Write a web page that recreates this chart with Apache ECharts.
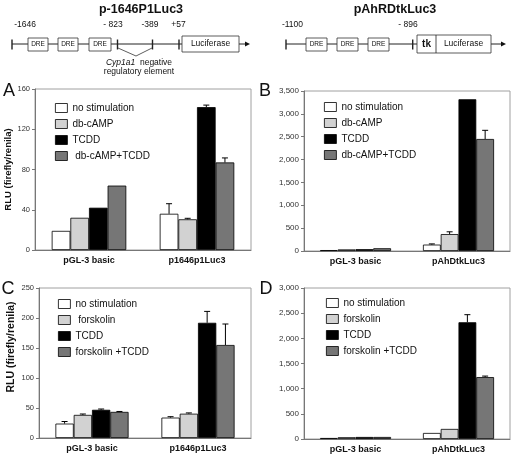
<!DOCTYPE html>
<html><head><meta charset="utf-8">
<script src="https://cdn.jsdelivr.net/npm/echarts@6/dist/echarts.min.js"></script>
<style>html,body{margin:0;padding:0;background:#fff}#c{width:512px;height:454px}</style>
</head><body><div id="c"></div>
<script>
// ---------- data ----------
const catsAC = ['pGL-3 basic', 'p1646p1Luc3'];
const catsBD = ['pGL-3 basic', 'pAhDtkLuc3'];
const namesA = ['no stimulation', 'db-cAMP', 'TCDD', ' db-cAMP+TCDD'];
const namesB = ['no stimulation', 'db-cAMP', 'TCDD', 'db-cAMP+TCDD'];
const namesC = ['no stimulation', ' forskolin', 'TCDD', 'forskolin +TCDD'];
const namesD = ['no stimulation', 'forskolin', 'TCDD', 'forskolin +TCDD'];
// panel A
const aNoStim = [19, 36],  aDbcAMP = [32, 30.5], aTCDD = [42, 142], aCombo = [64, 87];
const aNoStimErr = [0, 10], aDbcAMPErr = [0, 1], aTCDDErr = [0, 2], aComboErr = [0, 4.5];
// panel B
const bNoStim = [20, 140], bDbcAMP = [35, 370], bTCDD = [40, 3320], bCombo = [60, 2450];
const bNoStimErr = [0, 15], bDbcAMPErr = [0, 50], bTCDDErr = [0, 0], bComboErr = [0, 190];
// panel C
const cNoStim = [24, 34], cFsk = [38.5, 40.5], cTCDD = [47, 192], cCombo = [43.5, 155];
const cNoStimErr = [3.5, 1.5], cFskErr = [1.5, 1.3], cTCDDErr = [1.3, 19], cComboErr = [0.7, 35];
// panel D
const dNoStim = [20, 120], dFsk = [35, 200], dTCDD = [40, 2320], dCombo = [40, 1230];
const dNoStimErr = [0, 0], dFskErr = [0, 0], dTCDDErr = [0, 150], dComboErr = [0, 20];
// axes
const yA = {min: 0, max: 160, interval: 40};
const yB = {min: 0, max: 3500, interval: 500};
const yC = {min: 0, max: 250, interval: 50};
const yD = {min: 0, max: 3000, interval: 500};

// ---------- styling ----------
const FONT = '"Liberation Sans", Arial, sans-serif';
const COLORS = ['#ffffff', '#d2d2d2', '#000000', '#767676'];
const GAP = 0.31;

const panels = [
  {vals: [aNoStim, aDbcAMP, aTCDD, aCombo], errs: [aNoStimErr, aDbcAMPErr, aTCDDErr, aComboErr], names: namesA, cats: catsAC, y: yA,
   grid: {left: 35, width: 216, top: 89, height: 161}, legend: {left: 50, top: 97}, fmt: v => v, yTitle: true, namePad: 0},
  {vals: [bNoStim, bDbcAMP, bTCDD, bCombo], errs: [bNoStimErr, bDbcAMPErr, bTCDDErr, bComboErr], names: namesB, cats: catsBD, y: yB,
   grid: {left: 304, width: 206, top: 91, height: 160}, legend: {left: 319, top: 96}, fmt: v => v.toLocaleString('en-US'), yTitle: false},
  {vals: [cNoStim, cFsk, cTCDD, cCombo], errs: [cNoStimErr, cFskErr, cTCDDErr, cComboErr], names: namesC, cats: catsAC, y: yC,
   grid: {left: 39, width: 212, top: 288, height: 150}, legend: {left: 53, top: 293}, fmt: v => v, yTitle: true, namePad: 32},
  {vals: [dNoStim, dFsk, dTCDD, dCombo], errs: [dNoStimErr, dFskErr, dTCDDErr, dComboErr], names: namesD, cats: catsBD, y: yD,
   grid: {left: 304, width: 206, top: 288, height: 151}, legend: {left: 321, top: 292}, fmt: v => v.toLocaleString('en-US'), yTitle: false}
];

const grid = [], xAxis = [], yAxis = [], series = [], legend = [];
panels.forEach((p, gi) => {
  grid.push(Object.assign({show: true, borderColor: '#a0a0a0', borderWidth: 1, backgroundColor: 'transparent'}, p.grid));
  xAxis.push({type: 'category', gridIndex: gi, data: p.cats,
    axisLine: {lineStyle: {color: '#777', width: 1}}, axisTick: {show: false},
    axisLabel: {fontFamily: FONT, fontSize: 9, fontWeight: 'bold', color: '#111', margin: 6}});
  const ya = {type: 'value', gridIndex: gi, min: p.y.min, max: p.y.max, interval: p.y.interval,
    axisLine: {show: true, lineStyle: {color: '#777', width: 1}},
    axisTick: {show: true, length: 3, lineStyle: {color: '#777'}},
    splitLine: {show: false},
    axisLabel: {fontFamily: FONT, fontSize: gi % 2 ? 8 : 7.5, color: '#333', margin: 5, formatter: p.fmt}};
  if (p.yTitle) {
    Object.assign(ya, {name: 'RLU (firefly/renila)', nameLocation: 'middle', nameRotate: 90, nameGap: gi === 0 ? 19 : 22,
      nameTextStyle: {fontFamily: FONT, fontSize: gi === 0 ? 9.5 : 10.5, fontWeight: 'bold', color: '#111', padding: [0, 0, 0, p.namePad]}});
  }
  yAxis.push(ya);
  p.vals.forEach((arr, k) => {
    series.push({type: 'bar', name: p.names[k], xAxisIndex: gi, yAxisIndex: gi, data: arr,
      barGap: '0%', barCategoryGap: (GAP * 100) + '%',
      itemStyle: {color: COLORS[k], borderColor: '#000', borderWidth: 0.8}, silent: true, animation: false});
  });
  p.errs.forEach((earr, k) => {
    const data = earr.map((e, ci) => [ci, p.vals[k][ci], e]);
    series.push({type: 'custom', name: 'err' + gi + k, xAxisIndex: gi, yAxisIndex: gi, data: data, silent: true, animation: false, z: 5,
      renderItem: (params, api) => {
        const ci = api.value(0), v = api.value(1), e = api.value(2);
        if (!e) return null;
        const catW = api.size([1, 0])[0];
        const bw = catW * (1 - GAP) / 4;
        const cx = api.coord([ci, 0])[0] + (k - 1.5) * bw;
        const yb = api.coord([ci, v])[1], yt = api.coord([ci, v + e])[1];
        return {type: 'group', children: [
          {type: 'line', shape: {x1: cx, y1: yb, x2: cx, y2: yt}, style: {stroke: '#000', lineWidth: 1}},
          {type: 'line', shape: {x1: cx - 3, y1: yt, x2: cx + 3, y2: yt}, style: {stroke: '#000', lineWidth: 1}}
        ]};
      }});
  });
  legend.push({orient: 'vertical', left: p.legend.left, top: p.legend.top, data: p.names,
    icon: 'rect', itemWidth: 12, itemHeight: 9, itemGap: 4, selectedMode: false,
    itemStyle: {borderColor: '#000', borderWidth: 0.8},
    textStyle: {fontFamily: FONT, fontSize: 10, color: '#111', lineHeight: 12}});
});

// ---------- diagrams & panel letters ----------
const g = [];
function txt(x, y, s, size, opts) {
  g.push({type: 'text', x: x, y: y, silent: true, style: Object.assign({text: s, fontFamily: FONT, fontSize: size, fill: '#111', align: 'center', verticalAlign: 'middle'}, opts || {})});
}
function ln(x1, y1, x2, y2, w) {
  g.push({type: 'line', silent: true, shape: {x1, y1, x2, y2}, style: {stroke: '#222', lineWidth: w || 1}});
}
function box(x, y, w, h) {
  g.push({type: 'rect', silent: true, shape: {x, y, width: w, height: h}, style: {fill: '#fff', stroke: '#333', lineWidth: 0.8}});
}
function arrow(x, y) {
  g.push({type: 'polygon', silent: true, shape: {points: [[x - 5, y - 2.5], [x, y], [x - 5, y + 2.5]]}, style: {fill: '#111'}});
}
// diagram 1
txt(141, 10, 'p-1646P1Luc3', 12.5, {fontWeight: 'bold'});
ln(12, 44, 246, 44, 1); arrow(250, 44);
[12, 117.5, 152.5, 179].forEach(x => ln(x, 39.5, x, 49.5, 1.4));
[[28, 20], [58, 20], [89, 22]].forEach(b => { box(b[0], 38, b[1], 13); txt(b[0] + b[1] / 2, 44.5, 'DRE', 6.5); });
box(182, 36, 57, 16); txt(210.5, 44, 'Luciferase', 8.5);
g.push({type: 'polyline', silent: true, shape: {points: [[118, 48], [136, 56], [152, 48]]}, style: {stroke: '#333', lineWidth: 0.8, fill: null}});
txt(25, 25, '-1646', 8.5); txt(113, 25, '- 823', 8.5); txt(150, 25, '-389', 8.5); txt(178.5, 25, '+57', 8.5);
g.push({type: 'text', x: 139, y: 63, silent: true, style: {text: '{i|Cyp1a1}  negative', fontFamily: FONT, fontSize: 8.5, fill: '#111', align: 'center', verticalAlign: 'middle',
  rich: {i: {fontStyle: 'italic', fontFamily: FONT, fontSize: 8.5, fill: '#111'}}}});
txt(139, 71.5, 'regulatory element', 8.5);
// diagram 2
txt(395, 10, 'pAhRDtkLuc3', 12.5, {fontWeight: 'bold'});
ln(286, 44, 502, 44, 1); arrow(506, 44);
[286, 412.7].forEach(x => ln(x, 39.5, x, 49.5, 1.4));
[306, 337, 368].forEach(x => { box(x, 38, 21, 13); txt(x + 10.5, 44.5, 'DRE', 6.5); });
box(417, 35, 74, 18); ln(436, 35, 436, 53, 0.8);
txt(426.5, 44, 'tk', 10, {fontWeight: 'bold'}); txt(463.5, 44, 'Luciferase', 8.5);
txt(292.5, 25, '-1100', 8.5); txt(408, 25, '- 896', 8.5);
// panel letters
txt(9, 91, 'A', 18); txt(265, 91, 'B', 18); txt(8, 289, 'C', 18); txt(266, 289, 'D', 18);

const chart = echarts.init(document.getElementById('c'), null, {renderer: 'canvas'});
chart.setOption({animation: false, backgroundColor: '#fff', grid, xAxis, yAxis, series, legend, graphic: g});
</script></body></html>
